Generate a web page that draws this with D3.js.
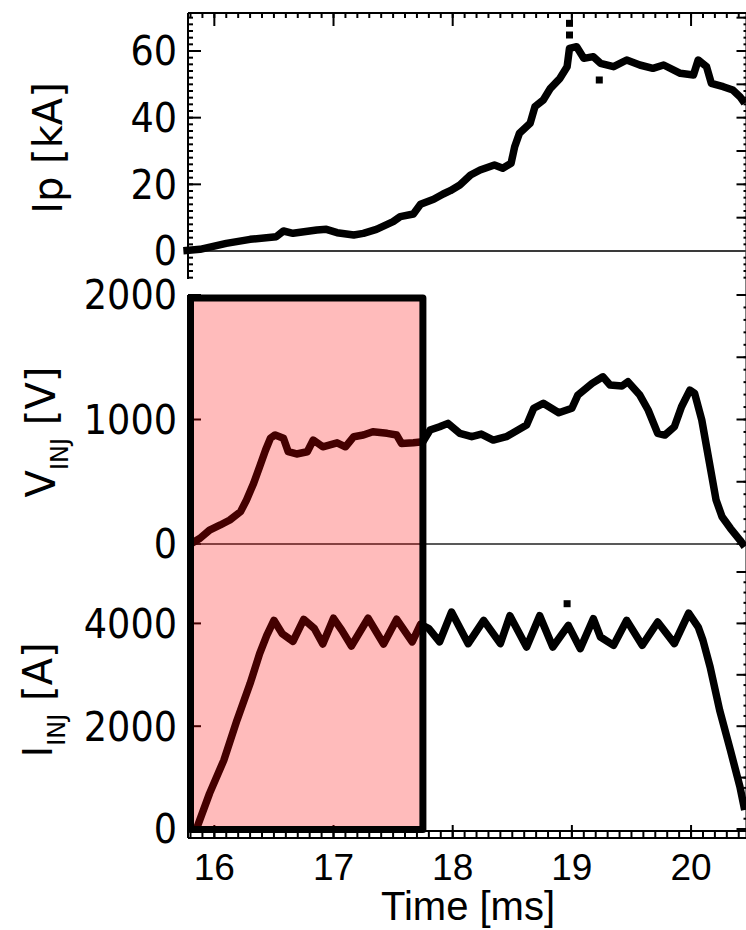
<!DOCTYPE html>
<html>
<head>
<meta charset="utf-8">
<script src="https://cdn.jsdelivr.net/npm/d3@7"></script>
<style>
  body { margin: 0; background: #fff; }
  svg { display: block; }
</style>
</head>
<body>
<script>
// Plasma current Ip [kA] versus time [ms]
const tIp = [15.74, 15.88, 16.10, 16.30, 16.52, 16.58, 16.66, 16.86, 16.94, 17.03, 17.17, 17.25, 17.36, 17.50, 17.56, 17.67, 17.73, 17.84, 17.92, 17.98, 18.06, 18.15, 18.23, 18.35, 18.42, 18.49, 18.52, 18.56, 18.65, 18.69, 18.76, 18.82, 18.90, 18.96, 18.98, 19.04, 19.10, 19.18, 19.24, 19.35, 19.46, 19.57, 19.68, 19.77, 19.91, 20.02, 20.06, 20.13, 20.17, 20.27, 20.35, 20.41, 20.45];
const ip  = [0.1, 0.5, 2.3, 3.5, 4.3, 6.0, 5.3, 6.3, 6.5, 5.5, 4.8, 5.3, 6.5, 8.8, 10.3, 11.1, 14.0, 15.5, 17.1, 18.1, 19.8, 22.8, 24.3, 25.8, 24.8, 26.3, 31.3, 35.3, 38.3, 43.3, 45.3, 48.8, 51.8, 55.3, 60.8, 61.3, 57.8, 58.3, 56.3, 55.3, 57.3, 55.8, 54.8, 55.8, 53.3, 52.8, 57.3, 55.3, 50.3, 49.3, 48.3, 46.3, 44.3];
// isolated Ip samples off the main trace
const tIpDots = [18.98, 18.98, 19.23];
const ipDots  = [68.3, 64.8, 51.3];

// Injector voltage V_INJ [V]
const tV = [15.80, 15.88, 15.96, 16.05, 16.13, 16.22, 16.27, 16.33, 16.38, 16.43, 16.47, 16.51, 16.58, 16.62, 16.69, 16.78, 16.83, 16.91, 17.03, 17.10, 17.17, 17.25, 17.33, 17.45, 17.53, 17.57, 17.67, 17.75, 17.81, 17.89, 17.96, 18.06, 18.16, 18.24, 18.34, 18.45, 18.62, 18.68, 18.76, 18.89, 19.00, 19.05, 19.17, 19.26, 19.32, 19.42, 19.47, 19.57, 19.64, 19.72, 19.78, 19.86, 19.92, 19.99, 20.03, 20.09, 20.13, 20.17, 20.21, 20.26, 20.33, 20.41, 20.45];
const vinj = [0, 46, 112, 153, 193, 260, 353, 488, 621, 755, 849, 876, 849, 741, 723, 741, 835, 781, 813, 781, 862, 875, 902, 889, 875, 808, 813, 821, 915, 942, 969, 889, 862, 883, 835, 862, 955, 1090, 1130, 1054, 1090, 1196, 1290, 1343, 1277, 1269, 1303, 1196, 1076, 889, 875, 942, 1102, 1236, 1210, 996, 781, 567, 353, 219, 126, 32, -22];

// Injector current I_INJ [A]
const tI = [15.85, 15.96, 16.08, 16.19, 16.30, 16.38, 16.44, 16.50, 16.57, 16.66, 16.75, 16.84, 16.91, 17.00, 17.07, 17.15, 17.29, 17.42, 17.53, 17.66, 17.73, 17.80, 17.89, 17.99, 18.13, 18.26, 18.40, 18.48, 18.62, 18.73, 18.84, 18.97, 19.07, 19.18, 19.24, 19.35, 19.46, 19.59, 19.72, 19.86, 19.98, 20.06, 20.10, 20.16, 20.24, 20.33, 20.41, 20.45];
const iinj = [0, 693, 1340, 2117, 2830, 3412, 3768, 4060, 3800, 3650, 4080, 3897, 3600, 4100, 3865, 3560, 4100, 3600, 4080, 3640, 3980, 3900, 3640, 4220, 3606, 4059, 3606, 4150, 3540, 4150, 3540, 3962, 3509, 4092, 3735, 3573, 4059, 3573, 4026, 3606, 4200, 3929, 3670, 3152, 2311, 1534, 822, 369];
const tIDots = [18.96];
const iDots  = [4383];

// Highlighted time window [ms] and tick labels
const windowT = [15.80, 17.75];
const timeTicks = [16, 17, 18, 19, 20];
const ipTicks = [0, 20, 40, 60];
const vTicks = [0, 1000, 2000];
const iTicks = [0, 2000, 4000];

const W = 746, H = 930;
const svg = d3.select("body").append("svg").attr("width", W).attr("height", H);

const x   = d3.scaleLinear().domain([15.779, 20.461]).range([188, 746]);
const yIp = d3.scaleLinear().domain([-8.4, 71.4]).range([279, 13]);
const yV  = d3.scaleLinear().domain([0, 2000]).range([544, 295]);
const yI  = d3.scaleLinear().domain([0, 5000]).range([829, 572]);

const axG = svg.append("g").attr("stroke", "#000").attr("stroke-width", 2).attr("fill", "none");

function hTicks(values, y0, len) {
  axG.append("g").selectAll("line").data(values).join("line")
    .attr("x1", d => x(d)).attr("x2", d => x(d))
    .attr("y1", y0).attr("y2", y0 + len);
}
function vTickLines(scale, values, x0, len) {
  axG.append("g").selectAll("line").data(values).join("line")
    .attr("x1", x0).attr("x2", x0 + len)
    .attr("y1", d => scale(d)).attr("y2", d => scale(d));
}
function seg(x1, y1, x2, y2) {
  axG.append("line").attr("x1", x1).attr("y1", y1).attr("x2", x2).attr("y2", y2);
}

const xL = 188, xR = 746.5;
const minorT = d3.range(158, 205).map(d => d / 10);

// top axis
seg(xL, 13, xR, 13);
hTicks(minorT, 13, 5);
hTicks(timeTicks, 13, 13);
// bottom axis (double rule)
seg(xL, 831, xR, 831);
seg(xL, 838, xR, 838);
hTicks(minorT, 838, -7);
hTicks(timeTicks, 838, -13);

// left axis
seg(xL, 13, xL, 279);
seg(xL, 295, xL, 838);
// right axis
seg(xR, 13, xR, 838);

// Ip panel ticks
vTickLines(yIp, d3.range(-8, 72, 2), xL, 5);
vTickLines(yIp, ipTicks, xL, 13);
vTickLines(yIp, d3.range(-8, 72, 2), xR, -3);
vTickLines(yIp, d3.range(0, 71, 10), xR, -10);
// V panel ticks
vTickLines(yV, d3.range(0, 2001, 100), xL, 5);
vTickLines(yV, vTicks, xL, 13);
vTickLines(yV, d3.range(0, 2001, 100), xR, -3);
vTickLines(yV, d3.range(0, 2001, 500), xR, -10);
// I panel ticks
vTickLines(yI, d3.range(0, 5001, 200), xL, 5);
vTickLines(yI, iTicks, xL, 13);
vTickLines(yI, d3.range(0, 5001, 200), xR, -3);
vTickLines(yI, d3.range(0, 5001, 1000), xR, -10);

// zero reference lines
svg.append("line").attr("x1", xL).attr("x2", xR).attr("y1", yIp(0)).attr("y2", yIp(0))
  .attr("stroke", "#3a3a3a").attr("stroke-width", 2);
svg.append("line").attr("x1", xL).attr("x2", xR).attr("y1", yV(0)).attr("y2", yV(0))
  .attr("stroke", "#222").attr("stroke-width", 1.5);

// traces
function trace(ts, vs, yScale) {
  const pts = ts.map((t, i) => [t, vs[i]]);
  svg.append("path").datum(pts)
    .attr("d", d3.line().x(d => x(d[0])).y(d => yScale(d[1])))
    .attr("fill", "none").attr("stroke", "#000")
    .attr("stroke-width", 7.5).attr("stroke-linejoin", "round");
}
function dots(ts, vs, yScale) {
  svg.append("g").selectAll("rect").data(ts.map((t, i) => [t, vs[i]])).join("rect")
    .attr("x", d => x(d[0]) - 3.5).attr("y", d => yScale(d[1]) - 3.5)
    .attr("width", 7).attr("height", 7).attr("fill", "#000");
}
trace(tIp, ip, yIp);
dots(tIpDots, ipDots, yIp);
trace(tV, vinj, yV);
trace(tI, iinj, yI);
dots(tIDots, iDots, yI);

// highlighted window over the V and I panels
const bx0 = x(windowT[0]), bx1 = x(windowT[1]);
const by0 = yV(2000) + 3, by1 = yI(0) + 0.5;
svg.append("rect").attr("x", bx0).attr("y", by0)
  .attr("width", bx1 - bx0).attr("height", by1 - by0)
  .attr("fill", "#ff0000").attr("fill-opacity", 0.265);
svg.append("rect").attr("x", bx0).attr("y", by0)
  .attr("width", bx1 - bx0).attr("height", by1 - by0)
  .attr("fill", "none").attr("stroke", "#000").attr("stroke-width", 7)
  .attr("stroke-linejoin", "round");

// y tick labels
function yLabels(scale, values) {
  svg.append("g").selectAll("text").data(values).join("text")
    .attr("x", 177).attr("y", d => scale(d)).attr("dy", "0.36em")
    .attr("text-anchor", "end")
    .attr("font-family", "DejaVu Sans").attr("font-size", 40)
    .attr("textLength", d => String(d).length * 23.3)
    .attr("lengthAdjust", "spacingAndGlyphs")
    .text(d => d);
}
yLabels(yIp, ipTicks);
yLabels(yV, vTicks);
yLabels(yI, iTicks);

// x tick labels and title
svg.append("g").selectAll("text").data(timeTicks).join("text")
  .attr("x", d => x(d)).attr("y", 880).attr("text-anchor", "middle")
  .attr("font-family", "Liberation Sans").attr("font-size", 37)
  .text(d => d);
svg.append("text").attr("x", 468).attr("y", 920).attr("text-anchor", "middle")
  .attr("font-family", "Liberation Sans").attr("font-size", 40)
  .text("Time [ms]");

// axis titles
function yTitle(bx, cy, parts) {
  const t = svg.append("text")
    .attr("transform", `translate(${bx},${cy}) rotate(-90)`)
    .attr("text-anchor", "middle")
    .attr("font-family", "DejaVu Sans").attr("font-size", 40);
  parts.forEach(p => {
    const s = t.append("tspan").text(p.text);
    if (p.sub) s.attr("font-size", 24).attr("dy", 13);
    if (p.up) s.attr("dy", -13);
  });
}
yTitle(62, 148, [{ text: "Ip [kA]" }]);
yTitle(55, 432, [{ text: "V" }, { text: "INJ", sub: true }, { text: " [V]", up: true }]);
yTitle(52, 700, [{ text: "I" }, { text: "INJ", sub: true }, { text: " [A]", up: true }]);
</script>
</body>
</html>
